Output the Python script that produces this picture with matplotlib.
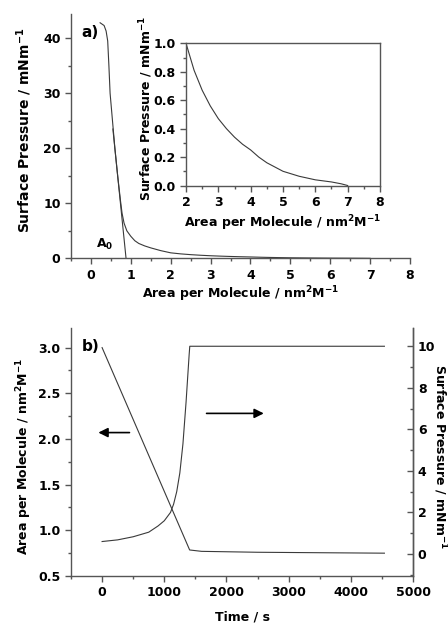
import numpy as np
import matplotlib
matplotlib.use('Agg')
import matplotlib.pyplot as plt
from matplotlib.ticker import MultipleLocator

plt.rcParams['font.family'] = ['DejaVu Sans']
plt.rcParams['font.weight'] = 'bold'
plt.rcParams['mathtext.fontset'] = 'dejavusans'
plt.rcParams['mathtext.default'] = 'bf'

#### data
# a) isotherm
area_a = [0.23, 0.33, 0.38, 0.42, 0.45, 0.48, 0.54, 0.60, 0.67, 0.74, 0.78, 0.83, 0.90, 1.0,
          1.1, 1.2, 1.35, 1.5, 1.75, 2.0, 2.25, 2.5, 2.75, 3.0, 3.25, 3.5, 3.75, 4.0, 4.25,
          4.5, 4.75, 5.0, 5.5, 6.0, 6.5, 6.8, 7.0]
pressure_a = [42.8, 42.3, 41.3, 39.5, 35.0, 30.0, 25.0, 20.0, 15.0, 10.5, 8.2, 6.4, 5.0, 4.0,
              3.2, 2.7, 2.25, 1.9, 1.4, 1.0, 0.81, 0.67, 0.56, 0.47, 0.40, 0.34, 0.29, 0.25, 0.20,
              0.16, 0.13, 0.10, 0.065, 0.04, 0.025, 0.012, 0.0]
a0_x = [0.55, 0.88]
a0_y = [23.5, 0.0]

# b) time traces
time_area = [0, 1408, 1600, 2500, 3500, 4540]
area_b = [3.0, 0.785, 0.77, 0.76, 0.755, 0.75]
time_p = [0, 250, 500, 750, 900, 1000, 1100, 1150, 1200, 1250, 1300, 1350, 1400, 1410, 4540]
pressure_b = [0.6, 0.68, 0.83, 1.05, 1.35, 1.6, 2.0, 2.4, 3.0, 3.9, 5.3, 7.3, 9.6, 10.0, 10.0]

line_col = '#3a3a3a'
spine_col = '#555555'
fs_tick = 9
fs_lab = 9


def style(ax, sides):
    for s in ['left', 'right', 'top', 'bottom']:
        ax.spines[s].set_visible(s in sides)
        ax.spines[s].set_color(spine_col)
        ax.spines[s].set_linewidth(1.0)
    ax.tick_params(which='both', colors=spine_col, labelcolor='black', labelsize=fs_tick, width=1.0)
    ax.tick_params(which='major', length=4)
    ax.tick_params(which='minor', length=2.5)


fig = plt.figure(figsize=(4.48, 6.24), dpi=100)

### panel a
ax1 = fig.add_axes([0.1585, 0.586, 0.7567, 0.3916])
ax1.plot(area_a, pressure_a, color=line_col, lw=0.8)
ax1.plot(a0_x, a0_y, color=line_col, lw=0.8)
ax1.set_xlim(-0.5, 8)
ax1.set_ylim(0, 44.4)
ax1.xaxis.set_major_locator(MultipleLocator(1))
ax1.xaxis.set_minor_locator(MultipleLocator(0.5))
ax1.yaxis.set_major_locator(MultipleLocator(10))
ax1.yaxis.set_minor_locator(MultipleLocator(5))
ax1.tick_params(which='both', direction='out')
style(ax1, ['left', 'bottom'])
ax1.set_xlabel(r'Area per Molecule / nm$^2$M$^{-1}$', fontsize=fs_lab, fontweight='bold', va='center')
ax1.xaxis.set_label_coords(0.5, -0.145)
ax1.set_ylabel(r'Surface Pressure / mNm$^{-1}$', fontsize=10, fontweight='bold', va='center')
ax1.yaxis.set_label_coords(-0.139, 0.525)
ax1.text(0.03, 0.955, 'a)', transform=ax1.transAxes, fontsize=11, fontweight='bold', va='top')
ax1.text(0.12, 1.9, r'A$_0$', fontsize=fs_lab, fontweight='bold')

# inset
axi = fig.add_axes([0.4152, 0.7027, 0.4330, 0.2279])
axi.plot(area_a, pressure_a, color=line_col, lw=0.8)
axi.set_xlim(2, 8)
axi.set_ylim(0, 1.0)
axi.xaxis.set_major_locator(MultipleLocator(1))
axi.xaxis.set_minor_locator(MultipleLocator(0.5))
axi.yaxis.set_major_locator(MultipleLocator(0.2))
axi.yaxis.set_minor_locator(MultipleLocator(0.1))
axi.tick_params(which='both', direction='out')
style(axi, ['left', 'bottom', 'top', 'right'])
axi.yaxis.set_major_formatter(plt.FormatStrFormatter('%.1f'))
axi.set_xlabel(r'Area per Molecule / nm$^2$M$^{-1}$', fontsize=fs_lab, fontweight='bold', va='center')
axi.xaxis.set_label_coords(0.5, -0.264)
axi.set_ylabel(r'Surface Pressure / mNm$^{-1}$', fontsize=fs_lab, fontweight='bold', va='center')
axi.yaxis.set_label_coords(-0.206, 0.545)

### panel b
ax2 = fig.add_axes([0.1585, 0.0769, 0.7634, 0.3975])
ax2.plot(time_area, area_b, color=line_col, lw=0.8)
ax2.set_xlim(-500, 5000)
ax2.set_ylim(0.5, 3.215)
ax2.xaxis.set_major_locator(MultipleLocator(1000))
ax2.xaxis.set_minor_locator(MultipleLocator(500))
ax2.yaxis.set_major_locator(MultipleLocator(0.5))
ax2.yaxis.set_minor_locator(MultipleLocator(0.25))
ax2.yaxis.set_major_formatter(plt.FormatStrFormatter('%.1f'))
ax2.tick_params(which='both', direction='out')
style(ax2, ['left', 'bottom', 'right'])
ax2.set_xlabel('Time / s', fontsize=fs_lab, fontweight='bold', va='center')
ax2.xaxis.set_label_coords(0.5, -0.165)
ax2.set_ylabel(r'Area per Molecule / nm$^2$M$^{-1}$', fontsize=fs_lab, fontweight='bold', va='center')
ax2.yaxis.set_label_coords(-0.137, 0.48)
ax2.text(0.03, 0.955, 'b)', transform=ax2.transAxes, fontsize=11, fontweight='bold', va='top')

ax3 = ax2.twinx()
ax3.plot(time_p, pressure_b, color=line_col, lw=0.8)
ax3.set_ylim(-1.06, 10.88)
ax3.yaxis.set_major_locator(MultipleLocator(2))
ax3.yaxis.set_minor_locator(MultipleLocator(1))
ax3.tick_params(which='both', direction='in')
style(ax3, ['right'])
ax3.set_ylabel(r'Surface Pressure / mNm$^{-1}$', fontsize=fs_lab, fontweight='bold',
               rotation=270, va='center')
ax3.yaxis.set_label_coords(1.079, 0.48)

# arrows
ax2.annotate('', xy=(-60, 2.07), xytext=(440, 2.07),
             arrowprops=dict(arrowstyle='-|>', color='black', lw=1.2, mutation_scale=14,
                             shrinkA=0, shrinkB=0))
ax2.annotate('', xy=(2600, 2.28), xytext=(1680, 2.28),
             arrowprops=dict(arrowstyle='-|>', color='black', lw=1.2, mutation_scale=14,
                             shrinkA=0, shrinkB=0))

fig.savefig('out.png', dpi=100)
